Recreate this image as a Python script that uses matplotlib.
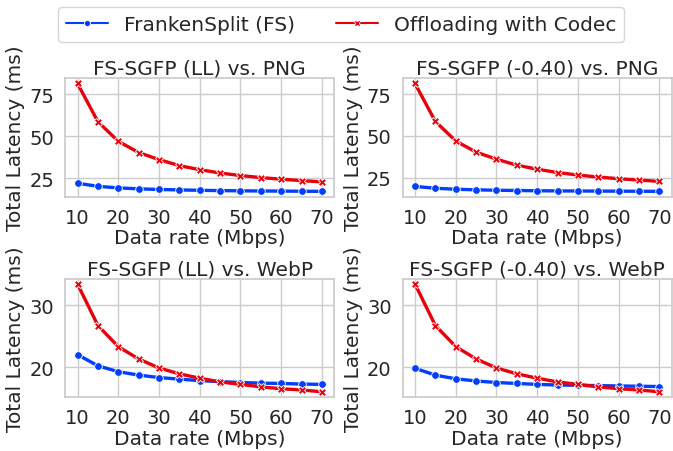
import matplotlib
matplotlib.use("Agg")
import matplotlib.pyplot as plt
from matplotlib.ticker import MultipleLocator
import seaborn as sns

sns.set_theme(style="whitegrid")
plt.rcParams['font.family'] = ['DejaVu Sans']

# data rates (Mbps)
rates = [10, 15, 20, 25, 30, 35, 40, 45, 50, 55, 60, 65, 70]

# FrankenSplit total latency (ms)
fs_ll = [22.0, 20.2, 19.25, 18.7, 18.3, 18.05, 17.8, 17.65, 17.5, 17.4, 17.35, 17.25, 17.2]
fs_040 = [19.8, 18.7, 18.1, 17.75, 17.5, 17.35, 17.2, 17.1, 17.05, 17.0, 16.95, 16.9, 16.85]

# offloading with codec total latency (ms)
codec_png = [81.4, 58.7, 47.0, 40.3, 36.1, 32.5, 30.1, 28.1, 26.6, 25.4, 24.4, 23.6, 22.8]
codec_webp = [33.4, 26.7, 23.3, 21.3, 19.85, 18.9, 18.2, 17.6, 17.2, 16.8, 16.5, 16.3, 16.0]

titles = ["FS-SGFP (LL) vs. PNG", "FS-SGFP (-0.40) vs. PNG",
          "FS-SGFP (LL) vs. WebP", "FS-SGFP (-0.40) vs. WebP"]
fs_series = [fs_ll, fs_040, fs_ll, fs_040]
codec_series = [codec_png, codec_png, codec_webp, codec_webp]

blue = "#023EFF"
red = "#E8000B"

fig, axes = plt.subplots(2, 2, figsize=(6.73, 4.52), dpi=100)
fig.subplots_adjust(left=0.097, right=0.998, top=0.825, bottom=0.119,
                    wspace=0.255, hspace=0.69)

for i, ax in enumerate(axes.flat):
    ax.plot(rates, fs_series[i], '-o', color=blue, lw=2.4, markersize=5.5,
            markeredgecolor='white', markeredgewidth=0.6, label='FrankenSplit (FS)')
    ax.plot(rates, codec_series[i], '-X', color=red, lw=2.4, markersize=5.5,
            markeredgecolor='white', markeredgewidth=0.6, label='Offloading with Codec')
    ax.set_title(titles[i], fontsize=14.5, pad=3)
    ax.set_xlabel('Data rate (Mbps)', fontsize=14.5, labelpad=1)
    ax.set_ylabel('Total Latency (ms)', fontsize=14.5, labelpad=3)
    ax.xaxis.set_major_locator(MultipleLocator(10))
    ax.yaxis.set_major_locator(MultipleLocator(25 if i < 2 else 10))
    ax.tick_params(axis='both', labelsize=14, pad=2)
    for s in ax.spines.values():
        s.set_color('0.8')

handles, labels = axes[0, 0].get_legend_handles_labels()
leg = fig.legend(handles, labels, loc='upper center', bbox_to_anchor=(0.507, 0.982),
                 ncol=2, fontsize=14.5, frameon=True, markerscale=0.8,
                 borderaxespad=0.0, handlelength=2.1)
# thinner lines in the legend, like the original
for ln in leg.get_lines():
    ln.set_linewidth(1.5)

plt.savefig('out.png', dpi=100)
